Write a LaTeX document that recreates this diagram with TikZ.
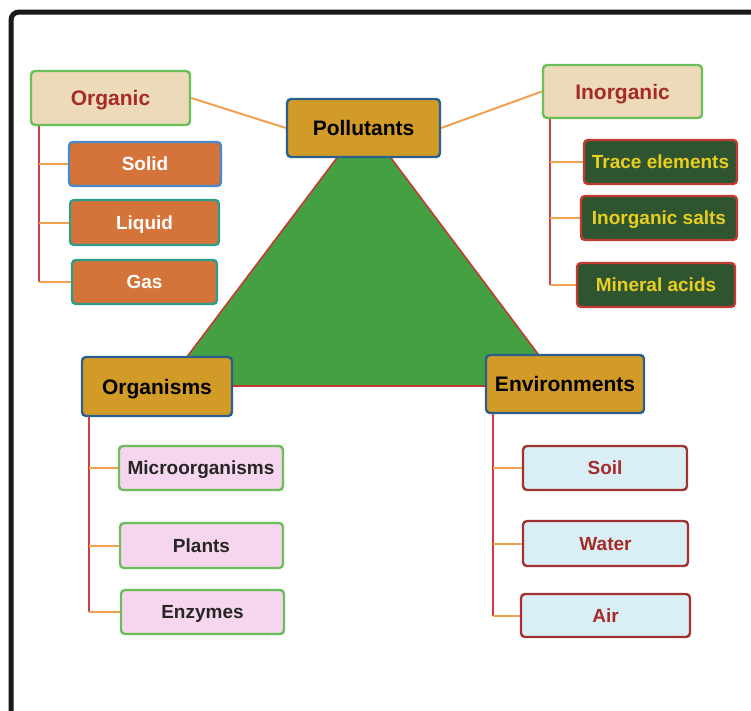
\documentclass[tikz,border=0pt]{standalone}
\usepackage{fontspec}
\setmainfont{Liberation Sans}
\definecolor{tanfill}{HTML}{EDDAB9}
\definecolor{grnb}{HTML}{6BBF59}
\definecolor{gold}{HTML}{D29B27}
\definecolor{blueb}{HTML}{2B5F8E}
\definecolor{orfill}{HTML}{D5743A}
\definecolor{solidb}{HTML}{4A88CC}
\definecolor{tealb}{HTML}{2C9C8C}
\definecolor{dkgreen}{HTML}{2F5530}
\definecolor{redb}{HTML}{C23B32}
\definecolor{yel}{HTML}{E8CF1F}
\definecolor{trig}{HTML}{45A043}
\definecolor{pinkf}{HTML}{F6D6EE}
\definecolor{ltblue}{HTML}{DAEFF5}
\definecolor{dkred}{HTML}{A33232}
\definecolor{txtred}{HTML}{A52A2A}
\definecolor{conn}{HTML}{F0A050}
\definecolor{trunkc}{HTML}{D04040}
\begin{document}
\begin{tikzpicture}[x=1pt,y=-1pt,
  base/.style={rectangle, rounded corners=4pt, line width=2.4pt, inner sep=0pt, text height=13.6pt, text depth=0pt, font=\fontsize{19}{22}\selectfont\bfseries},
  header/.style={base, fill=tanfill, draw=grnb, text=txtred, font=\fontsize{21}{24}\selectfont\bfseries, text height=15pt, text depth=0pt},
  hub/.style={base, fill=gold, draw=blueb, text=black, font=\fontsize{21}{24}\selectfont\bfseries, text height=15pt, text depth=0pt},
  orbox/.style={base, fill=orfill, draw=tealb, text=white},
  inbox/.style={base, fill=dkgreen, draw=redb, text=yel},
  orgbox/.style={base, fill=pinkf, draw=grnb, text=black!85},
  envbox/.style={base, fill=ltblue, draw=dkred, text=txtred},
  sz/.style 2 args={minimum width=#1pt, minimum height=#2pt},
  link/.style={conn, line width=2pt},
  trunk/.style={trunkc, line width=2pt}
]
\useasboundingbox (0,0) rectangle (751,710);
\fill[white] (0,0) rectangle (751,710);
% frame
\draw[black!90, line width=5pt, rounded corners=8pt] (11,712) -- (11,12) -- (753,12);
% triangle
\draw[fill=trig, draw=redb, line width=1.6pt] (364,122) -- (562,386) -- (165,386) -- cycle;

% nodes
\node[header, sz={159}{54}] (organic) at (110.5,98) {Organic};
\node[hub, sz={153}{58}] (poll) at (363.5,128) {Pollutants};
\node[header, sz={159}{53}] (inorg) at (622.5,91.5) {Inorganic};

\node[orbox, draw=solidb, sz={152}{44}] (solid) at (145,164) {Solid};
\node[orbox, sz={149}{45}] (liquid) at (144.5,222.5) {Liquid};
\node[orbox, sz={145}{44}] (gas) at (144.5,282) {Gas};

\node[inbox, sz={153}{44}] (trace) at (660.5,162) {Trace elements};
\node[inbox, sz={156}{44}] (salts) at (659,218) {Inorganic salts};
\node[inbox, sz={158}{44}] (mineral) at (656,285) {Mineral acids};

\node[hub, sz={150}{59}] (organisms) at (157,386.5) {Organisms};
\node[hub, sz={158}{58}] (env) at (565,384) {Environments};

\node[orgbox, sz={164}{44}] (micro) at (201,468) {Microorganisms};
\node[orgbox, sz={163}{45}] (plants) at (201.5,545.5) {Plants};
\node[orgbox, sz={163}{44}] (enzymes) at (202.5,612) {Enzymes};

\node[envbox, sz={164}{44}] (soil) at (605,468) {Soil};
\node[envbox, sz={165}{45}] (water) at (605.5,543.5) {Water};
\node[envbox, sz={169}{43}] (air) at (605.5,615.5) {Air};

% connectors to hub
\draw[link] (organic.east) -- (poll.west);
\draw[link] (poll.east) -- (inorg.west);

% organic tree
\coordinate (ot) at ([xshift=9pt]organic.south west);
\draw[trunk] (ot) -- (ot |- gas.west);
\foreach \n in {solid,liquid,gas} \draw[link] (ot |- \n.west) -- (\n.west);

% inorganic tree
\coordinate (it) at ([xshift=8pt]inorg.south west);
\draw[trunk] (it) -- (it |- mineral.west);
\foreach \n in {trace,salts,mineral} \draw[link] (it |- \n.west) -- (\n.west);

% organisms tree
\coordinate (gt) at ([xshift=8pt]organisms.south west);
\draw[trunk] (gt) -- (gt |- enzymes.west);
\foreach \n in {micro,plants,enzymes} \draw[link] (gt |- \n.west) -- (\n.west);

% environments tree
\coordinate (et) at ([xshift=8pt]env.south west);
\draw[trunk] (et) -- (et |- air.west);
\foreach \n in {soil,water,air} \draw[link] (et |- \n.west) -- (\n.west);
\end{tikzpicture}
\end{document}
